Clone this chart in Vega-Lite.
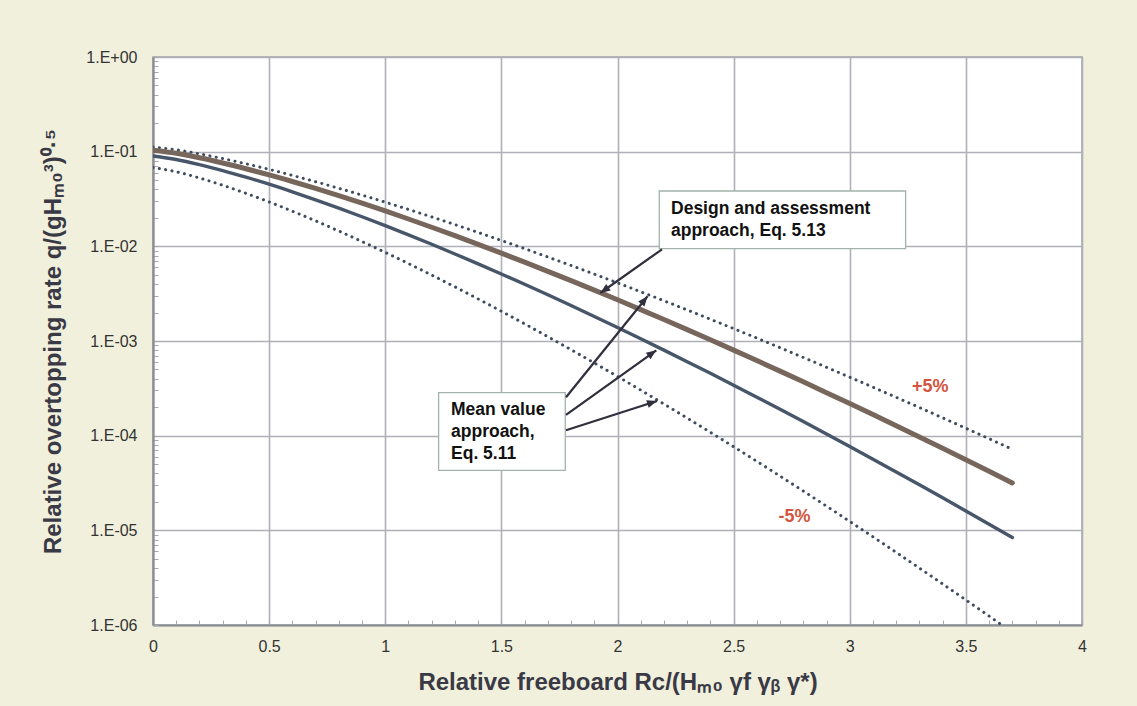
{
  "$schema": "https://vega.github.io/schema/vega-lite/v6.json",
  "width": 929,
  "height": 568,
  "autosize": {"type": "none"},
  "padding": {"left": 153, "top": 57, "right": 55, "bottom": 81},
  "background": "#f1f0dc",
  "config": {
    "view": {"fill": "#ffffff", "stroke": "#a0a0a8", "strokeWidth": 1.5},
    "font": "Liberation Sans",
    "axis": {
      "labelFont": "Liberation Sans",
      "labelFontSize": 16,
      "labelColor": "#333333",
      "titleFont": "Liberation Sans",
      "titleFontSize": 24,
      "titleFontWeight": "bold",
      "titleColor": "#3a3a46",
      "domainColor": "#8c8c94",
      "domainWidth": 2.2,
      "gridColor": "#b0b0b8",
      "gridWidth": 1.6,
      "tickColor": "#a8a8b0",
      "tickWidth": 1,
      "tickSize": -5,
      "labelOverlap": false,
      "labelBound": false,
      "labelFlush": false
    }
  },
  "datasets": {
    "mean": [
      {"x": 0, "q": 0.09}, {"x": 0.1, "q": 0.08267}, {"x": 0.2, "q": 0.07302}, {"x": 0.3, "q": 0.06316},
      {"x": 0.4, "q": 0.05379}, {"x": 0.5, "q": 0.0453}, {"x": 0.6, "q": 0.03763}, {"x": 0.7, "q": 0.03101},
      {"x": 0.8, "q": 0.02534}, {"x": 0.9, "q": 0.02055}, {"x": 1.0, "q": 0.01654}, {"x": 1.1, "q": 0.01323},
      {"x": 1.2, "q": 0.01051}, {"x": 1.3, "q": 0.008309}, {"x": 1.4, "q": 0.00653}, {"x": 1.5, "q": 0.005105},
      {"x": 1.6, "q": 0.003971}, {"x": 1.7, "q": 0.003075}, {"x": 1.8, "q": 0.00237}, {"x": 1.9, "q": 0.001818},
      {"x": 2.0, "q": 0.001389}, {"x": 2.1, "q": 0.001057}, {"x": 2.2, "q": 0.0008014}, {"x": 2.3, "q": 0.0006051},
      {"x": 2.4, "q": 0.0004553}, {"x": 2.5, "q": 0.0003413}, {"x": 2.6, "q": 0.000255}, {"x": 2.7, "q": 0.0001898},
      {"x": 2.8, "q": 0.0001409}, {"x": 2.9, "q": 0.0001042}, {"x": 3.0, "q": 0.00007684}, {"x": 3.1, "q": 0.00005649},
      {"x": 3.2, "q": 0.0000414}, {"x": 3.3, "q": 0.00003026}, {"x": 3.4, "q": 0.00002205}, {"x": 3.5, "q": 0.00001602},
      {"x": 3.6, "q": 0.00001161}, {"x": 3.7, "q": 0.000008391}
    ],
    "design": [
      {"x": 0, "q": 0.1035}, {"x": 0.1, "q": 0.09611}, {"x": 0.2, "q": 0.08625}, {"x": 0.3, "q": 0.076},
      {"x": 0.4, "q": 0.06607}, {"x": 0.5, "q": 0.05688}, {"x": 0.6, "q": 0.04838}, {"x": 0.7, "q": 0.04087},
      {"x": 0.8, "q": 0.03427}, {"x": 0.9, "q": 0.02855}, {"x": 1.0, "q": 0.02363}, {"x": 1.1, "q": 0.01944},
      {"x": 1.2, "q": 0.01591}, {"x": 1.3, "q": 0.01296}, {"x": 1.4, "q": 0.0105}, {"x": 1.5, "q": 0.008476},
      {"x": 1.6, "q": 0.006809}, {"x": 1.7, "q": 0.005447}, {"x": 1.8, "q": 0.00434}, {"x": 1.9, "q": 0.003445},
      {"x": 2.0, "q": 0.002725}, {"x": 2.1, "q": 0.002147}, {"x": 2.2, "q": 0.001686}, {"x": 2.3, "q": 0.00132},
      {"x": 2.4, "q": 0.00103}, {"x": 2.5, "q": 0.0008011}, {"x": 2.6, "q": 0.0006212}, {"x": 2.7, "q": 0.0004803},
      {"x": 2.8, "q": 0.0003703}, {"x": 2.9, "q": 0.0002847}, {"x": 3.0, "q": 0.0002183}, {"x": 3.1, "q": 0.0001669},
      {"x": 3.2, "q": 0.0001273}, {"x": 3.3, "q": 0.00009683}, {"x": 3.4, "q": 0.00007348}, {"x": 3.5, "q": 0.00005562},
      {"x": 3.6, "q": 0.000042}, {"x": 3.7, "q": 0.00003164}
    ],
    "upper": [
      {"x": 0, "q": 0.112}, {"x": 0.1, "q": 0.1047}, {"x": 0.2, "q": 0.0949}, {"x": 0.3, "q": 0.0846},
      {"x": 0.4, "q": 0.07449}, {"x": 0.5, "q": 0.06502}, {"x": 0.6, "q": 0.05613}, {"x": 0.7, "q": 0.04815},
      {"x": 0.8, "q": 0.04103}, {"x": 0.9, "q": 0.03475}, {"x": 1.0, "q": 0.02927}, {"x": 1.1, "q": 0.02452},
      {"x": 1.2, "q": 0.02044}, {"x": 1.3, "q": 0.01696}, {"x": 1.4, "q": 0.01401}, {"x": 1.5, "q": 0.01153},
      {"x": 1.6, "q": 0.00945}, {"x": 1.7, "q": 0.007715}, {"x": 1.8, "q": 0.006277}, {"x": 1.9, "q": 0.005089},
      {"x": 2.0, "q": 0.004112}, {"x": 2.1, "q": 0.003312}, {"x": 2.2, "q": 0.002659}, {"x": 2.3, "q": 0.002129},
      {"x": 2.4, "q": 0.001699}, {"x": 2.5, "q": 0.001352}, {"x": 2.6, "q": 0.001073}, {"x": 2.7, "q": 0.0008496},
      {"x": 2.8, "q": 0.0006708}, {"x": 2.9, "q": 0.0005282}, {"x": 3.0, "q": 0.0004149}, {"x": 3.1, "q": 0.0003252},
      {"x": 3.2, "q": 0.0002542}, {"x": 3.3, "q": 0.0001983}, {"x": 3.4, "q": 0.0001543}, {"x": 3.5, "q": 0.0001198},
      {"x": 3.6, "q": 0.00009284}, {"x": 3.7, "q": 0.00007178}
    ],
    "lower": [
      {"x": 0, "q": 0.068}, {"x": 0.1, "q": 0.06132}, {"x": 0.2, "q": 0.05271}, {"x": 0.3, "q": 0.04417},
      {"x": 0.4, "q": 0.03632}, {"x": 0.5, "q": 0.02947}, {"x": 0.6, "q": 0.02351}, {"x": 0.7, "q": 0.01857},
      {"x": 0.8, "q": 0.01452}, {"x": 0.9, "q": 0.01124}, {"x": 1.0, "q": 0.008634}, {"x": 1.1, "q": 0.006577},
      {"x": 1.2, "q": 0.004972}, {"x": 1.3, "q": 0.003732}, {"x": 1.4, "q": 0.002783}, {"x": 1.5, "q": 0.002062},
      {"x": 1.6, "q": 0.001518}, {"x": 1.7, "q": 0.001111}, {"x": 1.8, "q": 0.0008093}, {"x": 1.9, "q": 0.0005861},
      {"x": 2.0, "q": 0.0004223}, {"x": 2.1, "q": 0.0003028}, {"x": 2.2, "q": 0.000216}, {"x": 2.3, "q": 0.0001534},
      {"x": 2.4, "q": 0.0001085}, {"x": 2.5, "q": 0.00007636}, {"x": 2.6, "q": 0.00005353}, {"x": 2.7, "q": 0.00003737},
      {"x": 2.8, "q": 0.00002598}, {"x": 2.9, "q": 0.00001799}, {"x": 3.0, "q": 0.00001241}, {"x": 3.1, "q": 0.000008534},
      {"x": 3.2, "q": 0.000005845}, {"x": 3.3, "q": 0.000003989}, {"x": 3.4, "q": 0.000002713}, {"x": 3.5, "q": 0.000001838},
      {"x": 3.6, "q": 0.000001242}, {"x": 3.7, "q": 8.361e-7}
    ],
    "boxes": [
      {"x": 2.18, "xe": 3.2405, "q": 0.03842, "qe": 0.009465},
      {"x": 1.2297, "xe": 1.7752, "q": 0.0002851, "qe": 0.00004309}
    ],
    "notes": [
      {"x": 2.2304, "q": 0.0218, "text": "Design and assessment\napproach, Eq. 5.13"},
      {"x": 1.2832, "q": 0.000167, "text": "Mean value\napproach,\nEq. 5.11"}
    ],
    "bands": [
      {"x": 3.268, "q": 0.0002893, "text": "+5%"},
      {"x": 2.6937, "q": 0.00001225, "text": "-5%"}
    ],
    "arrows": [
      {"arrow": "design", "xs": 2.1916, "qs": 0.009305, "x": 1.9259, "q": 0.003213},
      {"arrow": "up", "xs": 1.7783, "qs": 0.0002543, "x": 2.1296, "q": 0.002967},
      {"arrow": "mid", "xs": 1.7783, "qs": 0.0001662, "x": 2.1671, "q": 0.0007976},
      {"arrow": "low", "xs": 1.7783, "qs": 0.000114, "x": 2.1701, "q": 0.0002324}
    ]
  },
  "encoding": {
    "x": {
      "field": "x", "type": "quantitative",
      "scale": {"domain": [0, 4], "nice": false, "zero": false},
      "axis": {
        "title": "Relative freeboard Rc/(Hₘ₀ γf γᵦ γ*)",
        "values": [0, 0.1, 0.2, 0.3, 0.4, 0.5, 0.6, 0.7, 0.8, 0.9, 1, 1.1, 1.2, 1.3, 1.4, 1.5, 1.6, 1.7, 1.8, 1.9, 2, 2.1, 2.2, 2.3, 2.4, 2.5, 2.6, 2.7, 2.8, 2.9, 3, 3.1, 3.2, 3.3, 3.4, 3.5, 3.6, 3.7, 3.8, 3.9, 4],
        "tickCount": 200,
        "labelExpr": "abs(datum.value*2 - round(datum.value*2)) < 0.001 ? '' + datum.value : ''",
        "gridOpacity": {"condition": {"test": "abs(datum.value*2 - round(datum.value*2)) < 0.001", "value": 1}, "value": 0},
        "labelPadding": 18,
        "titlePadding": 16
      }
    },
    "y": {
      "field": "q", "type": "quantitative",
      "scale": {"type": "log", "domain": [0.000001, 1], "nice": false},
      "axis": {
        "title": "Relative overtopping rate q/(gHₘ₀³)⁰·⁵",
        "values": [0.000001, 0.000002, 0.000003, 0.000004, 0.000005, 0.000006, 0.000007, 0.000008, 0.000009,
                   0.00001, 0.00002, 0.00003, 0.00004, 0.00005, 0.00006, 0.00007, 0.00008, 0.00009,
                   0.0001, 0.0002, 0.0003, 0.0004, 0.0005, 0.0006, 0.0007, 0.0008, 0.0009,
                   0.001, 0.002, 0.003, 0.004, 0.005, 0.006, 0.007, 0.008, 0.009,
                   0.01, 0.02, 0.03, 0.04, 0.05, 0.06, 0.07, 0.08, 0.09,
                   0.1, 0.2, 0.3, 0.4, 0.5, 0.6, 0.7, 0.8, 0.9, 1],
        "tickCount": 200,
        "labelExpr": "abs(log(datum.value)/LN10 - round(log(datum.value)/LN10)) < 0.001 ? (datum.value > 0.5 ? '1.E+00' : '1.E-0' + round(-log(datum.value)/LN10)) : ''",
        "gridOpacity": {"condition": {"test": "abs(log(datum.value)/LN10 - round(log(datum.value)/LN10)) < 0.001", "value": 1}, "value": 0},
        "labelPadding": 21,
        "titlePadding": 20
      }
    }
  },
  "layer": [
    {
      "data": {"name": "lower"},
      "mark": {"type": "line", "color": "#3f4c5f", "strokeWidth": 3, "strokeCap": "round", "strokeDash": [0.1, 6.3], "clip": true, "interpolate": "monotone"}
    },
    {
      "data": {"name": "upper"},
      "mark": {"type": "line", "color": "#3f4c5f", "strokeWidth": 3, "strokeCap": "round", "strokeDash": [0.1, 6.3], "clip": true, "interpolate": "monotone"}
    },
    {
      "data": {"name": "mean"},
      "mark": {"type": "line", "color": "#485669", "strokeWidth": 3.4, "strokeCap": "round", "clip": true, "interpolate": "monotone"}
    },
    {
      "data": {"name": "design"},
      "mark": {"type": "line", "color": "#76665b", "strokeWidth": 5, "strokeCap": "round", "clip": true, "interpolate": "monotone"}
    },
    {
      "data": {"name": "boxes"},
      "mark": {"type": "rect", "fill": "#ffffff", "stroke": "#a3b3aa", "strokeWidth": 1.3},
      "encoding": {
        "x2": {"field": "xe"},
        "y2": {"field": "qe"}
      }
    },
    {
      "data": {"name": "notes"},
      "mark": {"type": "text", "align": "left", "baseline": "alphabetic", "font": "Liberation Sans", "fontWeight": "bold", "fontSize": 17.5, "lineHeight": 22, "lineBreak": "\n", "color": "#111111"},
      "encoding": {
        "text": {"field": "text"}
      }
    },
    {
      "data": {"name": "bands"},
      "mark": {"type": "text", "align": "left", "baseline": "alphabetic", "font": "Liberation Sans", "fontWeight": "bold", "fontSize": 18, "color": "#d4553d"},
      "encoding": {
        "text": {"field": "text"}
      }
    },
    {
      "data": {"name": "arrows"},
      "mark": {"type": "rule", "color": "#2f2f3d", "strokeWidth": 2.2},
      "encoding": {
        "x2": {"field": "xs"},
        "y2": {"field": "qs"}
      }
    },
    {
      "data": {"name": "arrows"},
      "transform": [{"filter": "datum.arrow == 'design'"}],
      "mark": {"type": "point", "shape": "M0,0L-0.4,1L0.4,1Z", "size": 400, "filled": true, "opacity": 1, "color": "#2f2f3d", "angle": 234.7}
    },
    {
      "data": {"name": "arrows"},
      "transform": [{"filter": "datum.arrow == 'up'"}],
      "mark": {"type": "point", "shape": "M0,0L-0.4,1L0.4,1Z", "size": 400, "filled": true, "opacity": 1, "color": "#2f2f3d", "angle": 38.9}
    },
    {
      "data": {"name": "arrows"},
      "transform": [{"filter": "datum.arrow == 'mid'"}],
      "mark": {"type": "point", "shape": "M0,0L-0.4,1L0.4,1Z", "size": 400, "filled": true, "opacity": 1, "color": "#2f2f3d", "angle": 54.5}
    },
    {
      "data": {"name": "arrows"},
      "transform": [{"filter": "datum.arrow == 'low'"}],
      "mark": {"type": "point", "shape": "M0,0L-0.4,1L0.4,1Z", "size": 400, "filled": true, "opacity": 1, "color": "#2f2f3d", "angle": 72.2}
    }
  ]
}
